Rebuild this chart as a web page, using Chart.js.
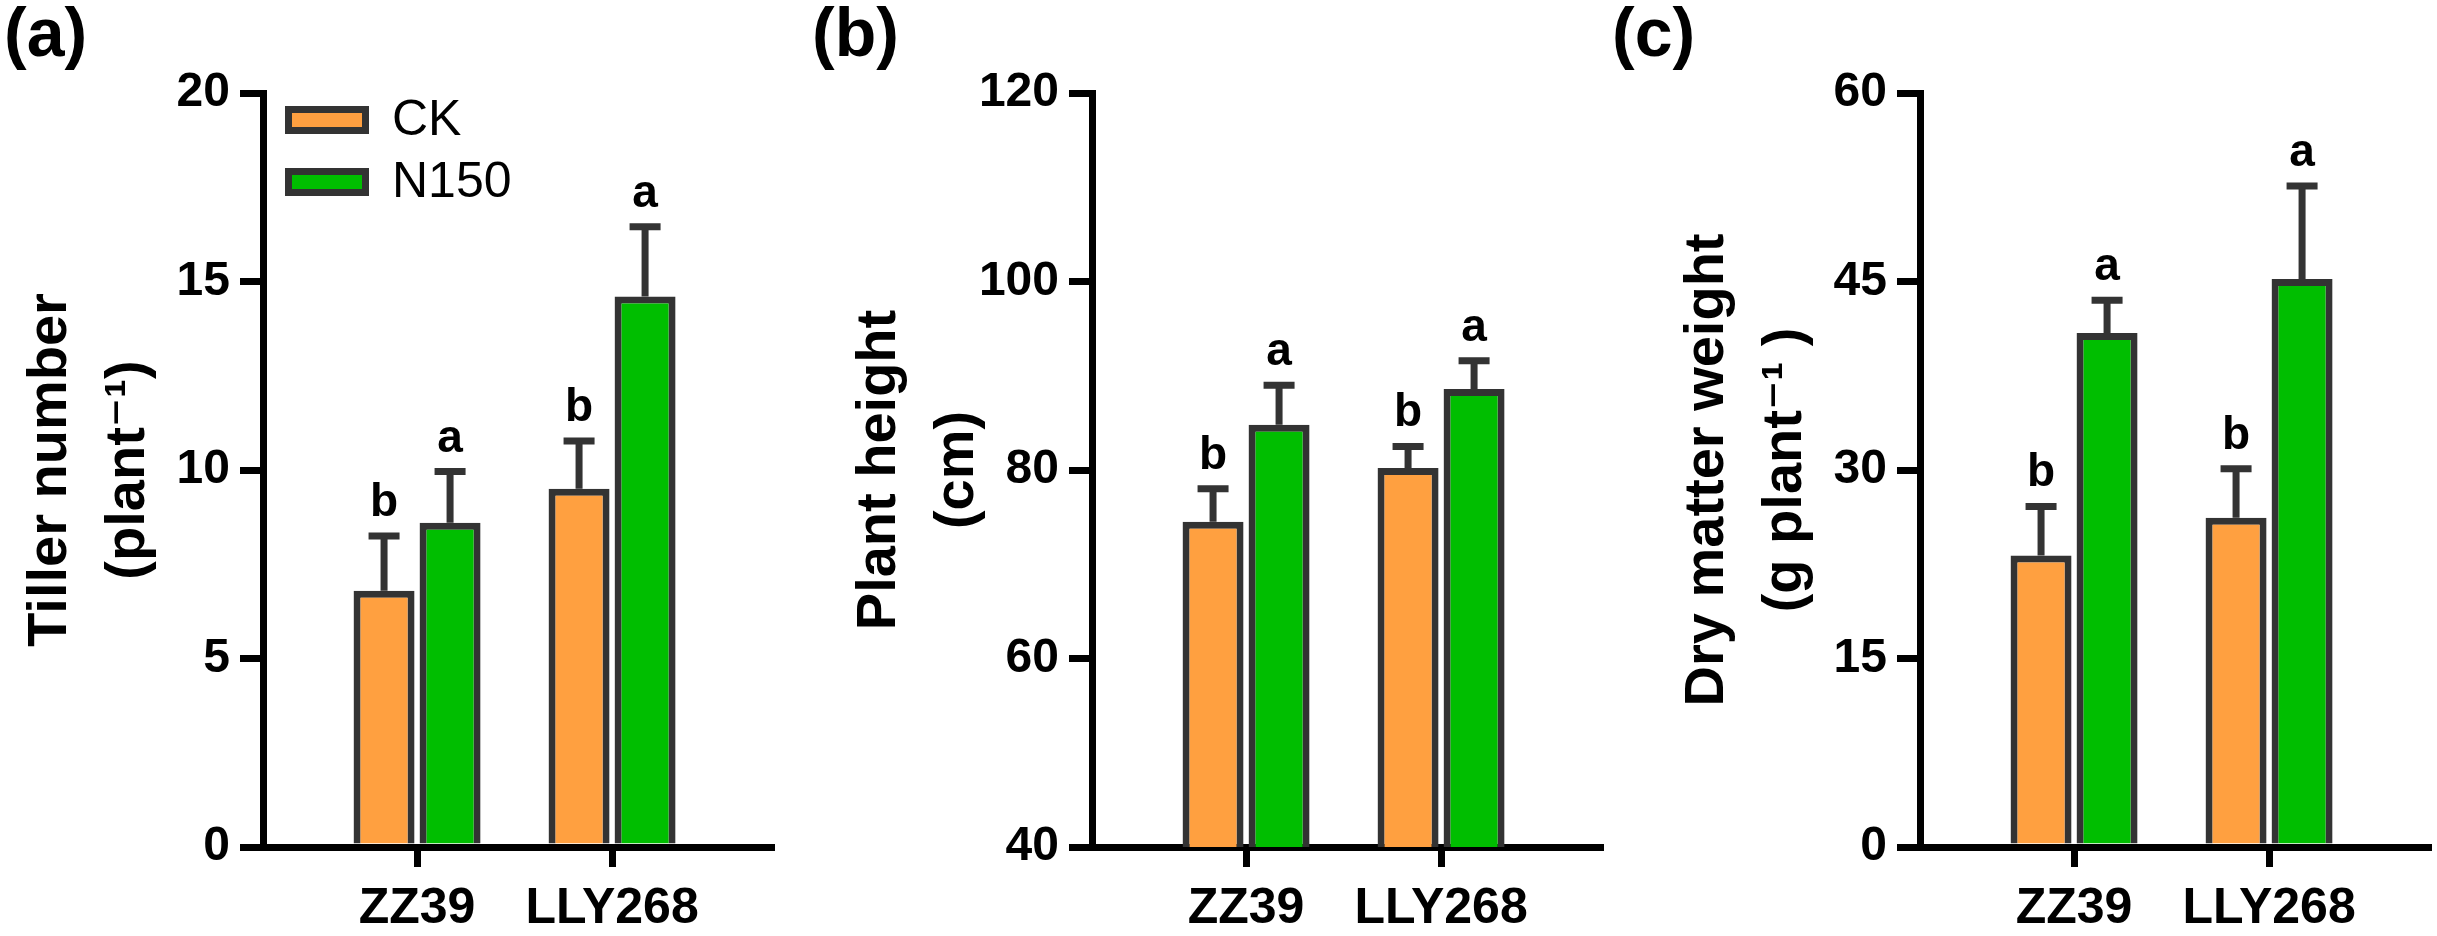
<!DOCTYPE html>
<html>
<head>
<meta charset="utf-8">
<script src="https://cdn.jsdelivr.net/npm/chart.js@4.4.1/dist/chart.umd.min.js"></script>
<style>
    html, body { margin: 0; padding: 0; background: #fff; }
    body { width: 2437px; height: 936px; position: relative; overflow: hidden; font-family: 'Liberation Sans', Arial, sans-serif; }
    .panel { position: absolute; top: 0; width: 780px; height: 936px; }
    .tag { position: absolute; top: -2px; font-weight: bold; font-size: 68px; line-height: 1; color: #000; }
</style>
</head>
<body>
<div class="tag" style="left:4px">(a)</div>
<div class="tag" style="left:812px">(b)</div>
<div class="tag" style="left:1612px">(c)</div>
<div class="panel" style="left:0px"><canvas id="tillerChart"></canvas></div>
<div class="panel" style="left:829px"><canvas id="heightChart"></canvas></div>
<div class="panel" style="left:1657px"><canvas id="dryChart"></canvas></div>
<script>
// Categories and series
const categories = ['ZZ39', 'LLY268'];
const seriesNames = ['CK', 'N150'];

// (a) Tiller number
const tillerCK = [6.8, 9.5];
const tillerCKErr = [1.45, 1.27];
const tillerN150 = [8.6, 14.6];
const tillerN150Err = [1.36, 1.85];
const tillerTicks = [0, 5, 10, 15, 20];

// (b) Plant height
const heightCK = [74.5, 80.2];
const heightCKErr = [3.5, 2.3];
const heightN150 = [84.8, 88.6];
const heightN150Err = [4.2, 3.0];
const heightTicks = [40, 60, 80, 100, 120];

// (c) Dry matter weight
const dryCK = [23.2, 26.2];
const dryCKErr = [3.9, 3.9];
const dryN150 = [40.9, 45.2];
const dryN150Err = [2.6, 7.4];
const dryTicks = [0, 15, 30, 45, 60];

// Significance letters
const lettersCK = ['b', 'b'];
const lettersN150 = ['a', 'a'];

const FONT = "'Liberation Sans', Arial, 'DejaVu Sans', sans-serif";
const COLORS = {
    ck: '#FFA040',
    n150: '#00BE00',
    edge: '#333333',
    axis: '#000000'
};

Chart.defaults.font.family = FONT;
Chart.defaults.color = '#000';

// Error bars and letters above each bar
const errorBarPlugin = {
    id: 'errorBars',
    afterDatasetsDraw(chart) {
        const ctx = chart.ctx;
        const yScale = chart.scales.y;
        chart.data.datasets.forEach((ds, di) => {
            const meta = chart.getDatasetMeta(di);
            meta.data.forEach((bar, i) => {
                const top = yScale.getPixelForValue(ds.data[i].y + ds.errors[i]);
                ctx.save();
                ctx.strokeStyle = COLORS.edge;
                ctx.lineWidth = 7;
                ctx.beginPath();
                ctx.moveTo(bar.x, bar.y);
                ctx.lineTo(bar.x, top);
                ctx.moveTo(bar.x - 15.5, top);
                ctx.lineTo(bar.x + 15.5, top);
                ctx.stroke();
                ctx.fillStyle = '#000';
                ctx.font = 'bold 46px ' + FONT;
                ctx.textAlign = 'center';
                ctx.textBaseline = 'alphabetic';
                ctx.fillText(ds.letters[i], bar.x, top - 20);
                ctx.restore();
            });
        });
    }
};

// Boxed legend inside the plot area (panel a only)
const boxLegendPlugin = {
    id: 'boxLegend',
    afterDraw(chart) {
        const ctx = chart.ctx;
        const area = chart.chartArea;
        chart.data.datasets.forEach((ds, i) => {
            const x = area.left + 22;
            const y = area.top + 13 + i * 62;
            ctx.save();
            ctx.fillStyle = COLORS.edge;
            ctx.fillRect(x, y, 84, 28);
            ctx.fillStyle = ds.backgroundColor;
            ctx.fillRect(x + 7, y + 7, 70, 14);
            ctx.fillStyle = '#000';
            ctx.font = '50px ' + FONT;
            ctx.textAlign = 'left';
            ctx.textBaseline = 'middle';
            ctx.fillText(ds.label, x + 107, y + 15);
            ctx.restore();
        });
    }
};

function makeDataset(label, values, errors, letters, color) {
    return {
        label: label,
        data: values.map((v, i) => ({ x: i + 1, y: v })),
        errors: errors,
        letters: letters,
        backgroundColor: color,
        borderColor: COLORS.edge,
        borderWidth: 7,
        categoryPercentage: 0.677,
        barPercentage: 0.924
    };
}

function makePanel(canvasId, ck, ckErr, n150, n150Err, ticks, title, withLegend) {
    const ctx = document.getElementById(canvasId).getContext('2d');
    return new Chart(ctx, {
        type: 'bar',
        data: {
            datasets: [
                makeDataset(seriesNames[0], ck, ckErr, lettersCK, COLORS.ck),
                makeDataset(seriesNames[1], n150, n150Err, lettersN150, COLORS.n150)
            ]
        },
        options: {
            responsive: true,
            maintainAspectRatio: false,
            animation: false,
            layout: { padding: { top: 93, right: 9, left: 0, bottom: 0 } },
            plugins: {
                legend: { display: false },
                tooltip: { enabled: false }
            },
            scales: {
                x: {
                    type: 'linear',
                    min: 0.21,
                    max: 2.815,
                    offset: false,
                    z: 1,
                    afterBuildTicks: (scale) => {
                        scale.ticks = categories.map((c, i) => ({ value: i + 1 }));
                    },
                    afterFit: (scale) => { scale.height = 89; },
                    ticks: {
                        callback: (v) => categories[Math.round(v) - 1] || '',
                        font: { size: 50, weight: 'bold' },
                        color: '#000',
                        padding: 12,
                        maxRotation: 0,
                        autoSkip: false
                    },
                    grid: {
                        offset: false,
                        drawOnChartArea: false,
                        drawTicks: true,
                        tickLength: 20,
                        lineWidth: 7,
                        tickWidth: 7,
                        tickColor: COLORS.axis
                    },
                    border: { display: true, color: COLORS.axis, width: 7 }
                },
                y: {
                    min: ticks[0],
                    max: ticks[ticks.length - 1],
                    z: 1,
                    afterBuildTicks: (scale) => {
                        scale.ticks = ticks.map(v => ({ value: v }));
                    },
                    afterFit: (scale) => { scale.width = 263; },
                    ticks: {
                        font: { size: 48, weight: 'bold' },
                        color: '#000',
                        padding: 10
                    },
                    grid: {
                        drawOnChartArea: false,
                        drawTicks: true,
                        tickLength: 23,
                        lineWidth: 7,
                        tickWidth: 7,
                        tickColor: COLORS.axis
                    },
                    border: { display: true, color: COLORS.axis, width: 7 },
                    title: {
                        display: true,
                        text: title,
                        color: '#000',
                        font: { size: 56, weight: 'bold', lineHeight: 1.4 },
                        padding: { top: 11, bottom: 0 }
                    }
                }
            }
        },
        plugins: withLegend ? [errorBarPlugin, boxLegendPlugin] : [errorBarPlugin]
    });
}

document.addEventListener('DOMContentLoaded', () => {
    makePanel('tillerChart', tillerCK, tillerCKErr, tillerN150, tillerN150Err, tillerTicks,
        ['Tiller number', '(plant\u207B\u00B9)'], true);
    makePanel('heightChart', heightCK, heightCKErr, heightN150, heightN150Err, heightTicks,
        ['Plant height', '(cm)'], false);
    makePanel('dryChart', dryCK, dryCKErr, dryN150, dryN150Err, dryTicks,
        ['Dry matter weight', '(g plant\u207B\u00B9 )'], false);
});
</script>
</body>
</html>
